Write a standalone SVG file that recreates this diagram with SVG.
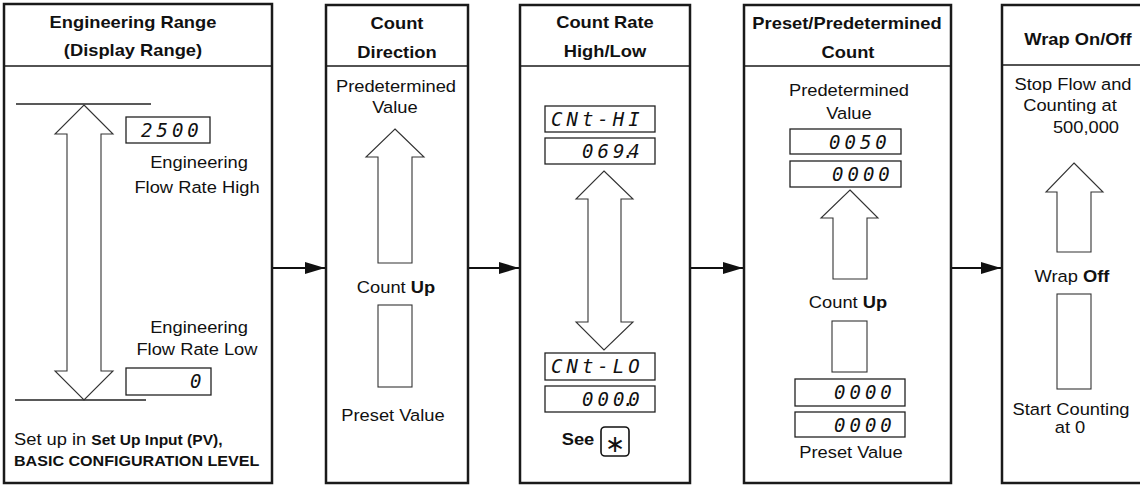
<svg xmlns="http://www.w3.org/2000/svg" width="1140" height="485" viewBox="0 0 1140 485">
<defs>
<style>
text{font-family:"Liberation Sans",Arial,sans-serif;fill:#111;}
.b{font-size:16.5px;text-anchor:middle;transform-box:fill-box;transform-origin:center;transform:scaleX(1.11);}
.h{font-size:16.5px;font-weight:bold;text-anchor:middle;transform-box:fill-box;transform-origin:center;transform:scaleX(1.11);}
.sl{font-size:16.5px;transform-box:fill-box;transform-origin:left center;transform:scaleX(1.11);}
.sb{font-size:14px;font-weight:bold;}
.box{fill:#fff;stroke:#1a1a1a;stroke-width:2.5;}
.div{stroke:#1a1a1a;stroke-width:1.3;fill:none;}
.arr{fill:#fff;stroke:#333;stroke-width:1.1;}
.disp{fill:#fff;stroke:#222;stroke-width:1.3;}
.seg{font-family:"DejaVu Sans Mono",monospace;font-style:italic;font-size:19px;letter-spacing:4px;fill:#111;}
.con{stroke:#111;stroke-width:2.2;fill:none;marker-end:url(#ah);}
.ln{stroke:#222;stroke-width:1.3;}
</style>
<marker id="ah" markerUnits="userSpaceOnUse" markerWidth="20" markerHeight="12" refX="20" refY="6" orient="auto">
<path d="M0,0 L20,6 L0,12 z" fill="#111"/>
</marker>
</defs>
<rect width="1140" height="485" fill="#fff"/>

<g id="connectors">
<line class="con" x1="273" y1="268" x2="325" y2="268"/>
<line class="con" x1="469" y1="268" x2="519" y2="268"/>
<line class="con" x1="691" y1="268" x2="743" y2="268"/>
<line class="con" x1="952" y1="268" x2="1001" y2="268"/>
</g>

<g id="node-engineering-range">
<rect class="box" x="4" y="4" width="268" height="479"/>
<line class="div" x1="4" y1="66" x2="272" y2="66"/>
<text class="h" x="133" y="28">Engineering Range</text>
<text class="h" x="133" y="56">(Display Range)</text>
<line class="ln" x1="16" y1="104" x2="151" y2="104"/>
<line class="ln" x1="15" y1="400" x2="146" y2="400"/>
<polygon class="arr" points="84,105 113,134 101,134 101,371 113,371 84,400 55,371 67,371 67,134 55,134"/>
<rect class="disp" x="126" y="117" width="84" height="26"/>
<text class="seg" x="141" y="137">2500</text>
<text class="b" x="199" y="168">Engineering</text>
<text class="b" x="197" y="193">Flow Rate High</text>
<text class="b" x="199" y="333">Engineering</text>
<text class="b" x="197" y="355">Flow Rate Low</text>
<rect class="disp" x="126" y="368" width="85" height="27"/>
<text class="seg" x="190" y="388">0</text>
<text class="sl" x="14" y="445">Set up in <tspan class="sb">Set Up Input (PV),</tspan></text>
<text class="sl" x="14" y="466" style="font-size:14.5px;font-weight:bold">BASIC CONFIGURATION LEVEL</text>
</g>

<g id="node-count-direction">
<rect class="box" x="326" y="5" width="142" height="478"/>
<line class="div" x1="326" y1="66" x2="468" y2="66"/>
<text class="h" x="397" y="29">Count</text>
<text class="h" x="397" y="58">Direction</text>
<text class="b" x="396" y="92">Predetermined</text>
<text class="b" x="395" y="113">Value</text>
<polygon class="arr" points="395,129 424,157 412,157 412,263 378,263 378,157 366,157"/>
<text class="b" x="396" y="293">Count <tspan font-weight="bold">Up</tspan></text>
<rect class="arr" x="378" y="305" width="34" height="82"/>
<text class="b" x="393" y="421">Preset Value</text>
</g>

<g id="node-count-rate">
<rect class="box" x="520" y="5" width="170" height="478"/>
<line class="div" x1="520" y1="66" x2="690" y2="66"/>
<text class="h" x="605" y="28">Count Rate</text>
<text class="h" x="605" y="57">High/Low</text>
<rect class="disp" x="545" y="106" width="110" height="26"/>
<text class="seg" x="551" y="126">CNt-HI</text>
<rect class="disp" x="545" y="138" width="110" height="26"/>
<text class="seg" x="582 597.4 612.9 623 628.3" y="158">069.4</text>
<polygon class="arr" points="604,171 633,199 621,199 621,322 633,322 604,350 576,322 588,322 588,199 576,199"/>
<rect class="disp" x="545" y="353" width="110" height="27"/>
<text class="seg" x="551" y="373">CNt-LO</text>
<rect class="disp" x="545" y="386" width="110" height="26"/>
<text class="seg" x="582 597.4 612.9 623 628.3" y="406">000.0</text>
<text class="h" x="578" y="445">See</text>
<rect x="601" y="427" width="28" height="29" rx="4" fill="#fff" stroke="#111" stroke-width="1.6"/>
<text x="615" y="452" font-family="DejaVu Sans, sans-serif" font-size="24" text-anchor="middle">∗</text>
</g>

<g id="node-preset-count">
<rect class="box" x="744" y="5" width="207" height="478"/>
<line class="div" x1="744" y1="66" x2="952" y2="66"/>
<text class="h" x="847" y="29">Preset/Predetermined</text>
<text class="h" x="848" y="58">Count</text>
<text class="b" x="849" y="96">Predetermined</text>
<text class="b" x="849" y="119">Value</text>
<rect class="disp" x="790" y="129" width="111" height="25"/>
<text class="seg" x="829" y="149">0050</text>
<rect class="disp" x="790" y="161" width="111" height="26"/>
<text class="seg" x="832" y="181">0000</text>
<polygon class="arr" points="850,190 878,218 867,218 867,279 833,279 833,218 821,218"/>
<text class="b" x="848" y="308">Count <tspan font-weight="bold">Up</tspan></text>
<rect class="arr" x="832" y="321" width="35" height="51"/>
<rect class="disp" x="795" y="379" width="110" height="27"/>
<text class="seg" x="834" y="399">0000</text>
<rect class="disp" x="795" y="412" width="110" height="25"/>
<text class="seg" x="834" y="432">0000</text>
<text class="b" x="851" y="458">Preset Value</text>
</g>

<g id="node-wrap">
<rect class="box" x="1002" y="5" width="160" height="478"/>
<line class="div" x1="1002" y1="65" x2="1162" y2="65"/>
<text class="h" x="1078" y="45">Wrap On/Off</text>
<text class="b" x="1073" y="90">Stop Flow and</text>
<text class="b" x="1070" y="111">Counting at</text>
<text class="b" x="1086" y="133">500,000</text>
<polygon class="arr" points="1074,163 1103,192 1091,192 1091,252 1057,252 1057,192 1046,192"/>
<text class="b" x="1072" y="282">Wrap <tspan font-weight="bold">Off</tspan></text>
<rect class="arr" x="1057" y="294" width="34" height="95"/>
<text class="b" x="1071" y="415">Start Counting</text>
<text class="b" x="1070" y="433">at 0</text>
</g>
</svg>
